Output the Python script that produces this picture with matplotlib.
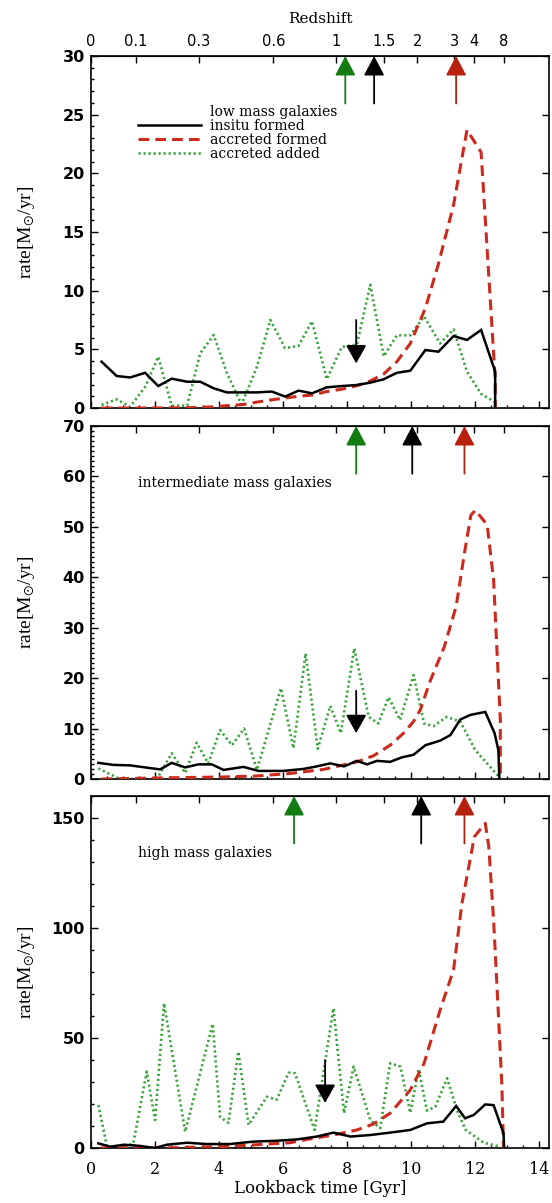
import matplotlib
matplotlib.use("Agg")
import matplotlib.pyplot as plt
from matplotlib.lines import Line2D
from matplotlib.ticker import MultipleLocator

plt.rcParams["font.family"] = "DejaVu Serif"
plt.rcParams["mathtext.fontset"] = "stix"

# ---------------------------
# Data
# ---------------------------
SERIES_LABELS = ["insitu formed", "accreted formed", "accreted added"]
PANEL_NAMES = ["low mass galaxies", "intermediate mass galaxies", "high mass galaxies"]

# low mass
LOW_INSITU_T = [0.33, 0.80, 1.22, 1.69, 2.10, 2.52, 3.00, 3.41, 3.83, 4.24, 4.76, 5.18, 5.65, 6.06, 6.48,
                6.90, 7.36, 7.83, 8.30, 8.72, 9.14, 9.55, 9.97, 10.44, 10.85, 11.32, 11.74, 12.18, 12.62, 12.62]
LOW_INSITU = [3.95, 2.73, 2.6, 3.0, 1.87, 2.5, 2.24, 2.24, 1.68, 1.33, 1.33, 1.33, 1.4, 0.97, 1.48,
              1.25, 1.76, 1.87, 1.96, 2.16, 2.45, 3.0, 3.18, 4.94, 4.8, 6.13, 5.8, 6.65, 3.1, 0.0]
LOW_FORMED_T = [0.33, 2.0, 3.0, 3.83, 4.24, 4.76, 5.18, 5.65, 6.06, 6.48, 6.90, 7.36, 7.83, 8.30, 8.72,
                9.14, 9.55, 9.97, 10.44, 10.85, 11.32, 11.74, 12.18, 12.62, 12.62]
LOW_FORMED = [0.0, 0.0, 0.02, 0.1, 0.2, 0.3, 0.5, 0.7, 0.85, 1.0, 1.1, 1.4, 1.6, 1.9, 2.3,
              2.9, 3.95, 5.5, 8.5, 12.3, 17.3, 23.7, 21.8, 2.5, 0.0]
LOW_ADDED_T = [0.33, 0.80, 1.22, 1.69, 2.10, 2.52, 3.00, 3.41, 3.83, 4.24, 4.70, 5.18, 5.60, 6.06, 6.48,
               6.90, 7.36, 7.83, 8.30, 8.72, 9.14, 9.55, 9.97, 10.40, 10.90, 11.32, 11.74, 12.18, 12.62]
LOW_ADDED = [0.26, 0.74, 0.1, 1.8, 4.37, 0.2, 0.2, 4.66, 6.22, 3.0, 0.3, 3.5, 7.5, 5.1, 5.3,
             7.4, 2.45, 5.2, 5.4, 10.5, 4.4, 6.2, 6.2, 7.8, 5.5, 6.7, 3.1, 1.2, 0.5]

# intermediate mass
MID_INSITU_T = [0.23, 0.70, 1.22, 1.69, 2.16, 2.52, 2.94, 3.35, 3.77, 4.14, 4.76, 5.23, 6.00, 6.64, 7.05,
                7.47, 7.90, 8.30, 8.62, 8.93, 9.34, 9.71, 10.07, 10.44, 10.90, 11.22, 11.53, 11.84, 12.31,
                12.60, 12.72, 12.75]
MID_INSITU = [3.2, 2.8, 2.7, 2.3, 1.9, 3.2, 2.3, 2.9, 2.9, 1.8, 2.4, 1.6, 1.6, 2.0, 2.5,
              3.1, 2.5, 3.6, 2.9, 3.6, 3.4, 4.3, 4.8, 6.7, 7.6, 8.7, 11.8, 12.7, 13.3,
              9.1, 5.7, 0.0]
MID_FORMED_T = [0.33, 2.06, 4.14, 5.18, 6.22, 7.26, 8.30, 8.82, 9.34, 9.76, 10.07, 10.28, 10.60, 11.03,
                11.40, 11.66, 11.86, 12.00, 12.37, 12.57, 12.73, 12.78, 12.78]
MID_FORMED = [0.0, 0.2, 0.4, 0.6, 1.1, 1.9, 3.4, 4.6, 6.7, 9.1, 11.4, 13.7, 19.6, 26.2,
              34.2, 44.8, 52.3, 53.3, 50.4, 39.5, 18.3, 11.7, 0.0]
MID_ADDED_T = [0.23, 0.90, 2.06, 2.52, 2.94, 3.30, 3.66, 4.03, 4.40, 4.78, 5.18, 5.93, 6.32, 6.70, 7.08,
               7.47, 7.80, 8.22, 8.67, 8.97, 9.29, 9.65, 10.07, 10.40, 10.70, 11.10, 11.53, 12.00, 12.73]
MID_ADDED = [2.1, 0.0, 0.0, 5.1, 1.2, 7.2, 3.1, 9.7, 6.7, 10.0, 1.8, 18.0, 6.1, 24.9, 6.0,
             14.5, 9.1, 25.9, 12.3, 11.0, 16.2, 11.7, 20.6, 11.0, 10.5, 12.3, 11.4, 5.7, 0.5]

# high mass
HIGH_INSITU_T = [0.23, 0.60, 1.03, 1.50, 2.00, 2.37, 3.00, 3.60, 4.34, 5.07, 5.80, 6.43, 7.05, 7.57,
                 8.10, 8.72, 9.34, 9.97, 10.49, 11.00, 11.40, 11.68, 11.95, 12.31, 12.57, 12.88, 12.90]
HIGH_INSITU = [2.1, 0.6, 1.5, 1.0, 0.0, 1.5, 2.4, 1.8, 1.8, 2.9, 3.3, 3.9, 5.2, 7.0,
               5.2, 5.9, 7.0, 8.2, 11.2, 12.0, 19.1, 13.5, 15.0, 19.8, 19.5, 6.7, 0.0]
HIGH_FORMED_T = [0.30, 2.05, 4.14, 5.18, 6.22, 6.74, 7.57, 8.30, 8.82, 9.34, 9.97, 10.40, 10.90, 11.32,
                 11.58, 11.97, 12.31, 12.42, 12.57, 12.73, 12.83, 12.88]
HIGH_FORMED = [0.0, 0.0, 0.6, 1.5, 2.4, 3.9, 5.9, 8.2, 10.9, 15.8, 26.4, 38.5, 62.7, 81.0,
               111.0, 141.5, 147.6, 137.0, 103.6, 58.0, 27.9, 0.0]
HIGH_ADDED_T = [0.23, 0.50, 1.03, 1.32, 1.74, 2.00, 2.28, 2.94, 3.80, 4.03, 4.29, 4.60, 4.92, 5.49, 5.80,
                6.17, 6.37, 6.98, 7.57, 7.90, 8.20, 8.72, 9.03, 9.34, 9.66, 9.97, 10.23, 10.49, 10.75,
                11.12, 11.43, 11.70, 12.26, 12.78]
HIGH_ADDED = [19.5, 0.6, 0.8, 2.0, 34.7, 12.7, 65.8, 7.4, 56.4, 14.2, 11.4, 43.8, 10.5, 23.3, 22.0,
              34.2, 34.0, 8.2, 63.5, 15.8, 37.0, 12.7, 9.0, 38.5, 37.0, 16.0, 36.0, 17.0, 18.8,
              31.7, 17.0, 8.2, 2.4, 0.6]

# arrow markers (lookback time [Gyr]); up arrows: green, black, red
UP_ARROW_T = [[7.94, 8.84, 11.40], [8.28, 10.03, 11.66], [6.34, 10.31, 11.66]]
DOWN_ARROW_T = [8.28, 8.28, 7.31]
DOWN_ARROW_FROM = [7.5, 17.5, 40.0]
DOWN_ARROW_TO = [3.8, 9.1, 20.5]

# redshift axis
Z_LABELS = ["0", "0.1", "0.3", "0.6", "1", "1.5", "2", "3", "4", "8"]
Z_TICK_T = [0.0, 1.40, 3.37, 5.69, 7.66, 9.16, 10.19, 11.34, 11.97, 12.88]

Y_MAX = [30, 70, 160]
Y_MAJOR = [5, 10, 50]
Y_MINOR = [1, 1, 10]
Y_TICKS = [list(range(0, 31, 5)), list(range(0, 71, 10)), [0, 50, 100, 150]]
X_TICKS = list(range(0, 15, 2))

# ---------------------------
# Styles
# ---------------------------
COL_INSITU = "black"
COL_FORMED = "#cc2a1c"
COL_ADDED = "#36a336"
ARROW_COLORS = ["#127c12", "black", "#b8200e"]
STYLE_INSITU = dict(color=COL_INSITU, lw=1.8, solid_joinstyle="miter")
STYLE_FORMED = dict(color=COL_FORMED, lw=2.2, dashes=(3.5, 2.0))
STYLE_ADDED = dict(color=COL_ADDED, lw=1.9, linestyle=(0, (0.8, 1.1)))

panels = [
    (LOW_INSITU_T, LOW_INSITU, LOW_FORMED_T, LOW_FORMED, LOW_ADDED_T, LOW_ADDED),
    (MID_INSITU_T, MID_INSITU, MID_FORMED_T, MID_FORMED, MID_ADDED_T, MID_ADDED),
    (HIGH_INSITU_T, HIGH_INSITU, HIGH_FORMED_T, HIGH_FORMED, HIGH_ADDED_T, HIGH_ADDED),
]

fig = plt.figure(figsize=(5.52, 12.03), dpi=100)
left, width = 91 / 552, 458 / 552
boxes = [(56, 408), (426, 779), (796, 1148)]

for i, (ti, vi, tf, vf, ta, va) in enumerate(panels):
    top_px, bot_px = boxes[i]
    ax = fig.add_axes([left, 1 - bot_px / 1203, width, (bot_px - top_px) / 1203])

    ax.plot(ta, va, **STYLE_ADDED, zorder=2)
    ax.plot(tf, vf, **STYLE_FORMED, zorder=3)
    ax.plot(ti, vi, **STYLE_INSITU, zorder=4)

    ax.set_xlim(0, 14.3)
    ax.set_ylim(0, Y_MAX[i])
    ax.xaxis.set_major_locator(MultipleLocator(2))
    ax.xaxis.set_minor_locator(MultipleLocator(0.5))
    ax.yaxis.set_minor_locator(MultipleLocator(Y_MINOR[i]))
    ax.set_yticks(Y_TICKS[i], [str(v) for v in Y_TICKS[i]],
                  fontfamily="DejaVu Sans", fontweight="bold", fontsize=11.5)
    if i == 2:
        ax.set_xticks(X_TICKS, [str(v) for v in X_TICKS], fontsize=11.5)
        ax.set_xlabel("Lookback time [Gyr]", fontsize=12, labelpad=2)
    else:
        ax.set_xticks(X_TICKS, [])
    ax.tick_params(which="both", direction="in", top=False, right=True, width=1.0)
    ax.tick_params(which="major", length=5, pad=4.5)
    ax.tick_params(axis="x", which="major", pad=9)
    ax.tick_params(which="minor", length=2.5, right=False)
    for sp in ax.spines.values():
        sp.set_linewidth(1.2)

    ax.set_ylabel(r"rate[M$_{\odot}$/yr]", fontfamily="Liberation Serif", fontsize=14)
    ax.yaxis.set_label_coords(-0.118, 0.5)

    # redshift axis on top
    sec = ax.secondary_xaxis("top")
    sec.set_xticks(Z_TICK_T, Z_LABELS if i == 0 else [])
    sec.tick_params(direction="in", length=5, width=1.0, labelsize=10.5, pad=5)
    for lbl in sec.get_xticklabels():
        lbl.set_fontfamily("DejaVu Sans")
    if i == 0:
        sec.set_xlabel("Redshift", fontsize=11, labelpad=8)

    # arrows
    for t, c in zip(UP_ARROW_T[i], ARROW_COLORS):
        ax.annotate("", xy=(t, 1.0), xycoords=("data", "axes fraction"),
                    xytext=(t, 0.865), textcoords=("data", "axes fraction"),
                    arrowprops=dict(arrowstyle="-|>,head_length=0.8,head_width=0.42",
                                    mutation_scale=15, color=c, lw=1.3,
                                    shrinkA=0, shrinkB=0), zorder=6)
    ax.annotate("", xy=(DOWN_ARROW_T[i], DOWN_ARROW_TO[i]),
                xytext=(DOWN_ARROW_T[i], DOWN_ARROW_FROM[i]),
                arrowprops=dict(arrowstyle="-|>,head_length=0.75,head_width=0.42",
                                mutation_scale=15, color="black", lw=1.3,
                                shrinkA=0, shrinkB=0), zorder=6)

    if i == 0:
        handles = [Line2D([], [], color="none"),
                   Line2D([], [], **STYLE_INSITU),
                   Line2D([], [], **STYLE_FORMED),
                   Line2D([], [], **STYLE_ADDED)]
        ax.legend(handles, [PANEL_NAMES[0]] + SERIES_LABELS, loc="upper left",
                  bbox_to_anchor=(0.103, 0.86), frameon=False, borderpad=0,
                  borderaxespad=0, handlelength=4.5, handletextpad=0.7,
                  labelspacing=0.0, fontsize=10)
    else:
        ax.text(0.103, 0.838, PANEL_NAMES[i], transform=ax.transAxes,
                fontsize=10, va="center", ha="left")

fig.savefig("out.png", dpi=100)
